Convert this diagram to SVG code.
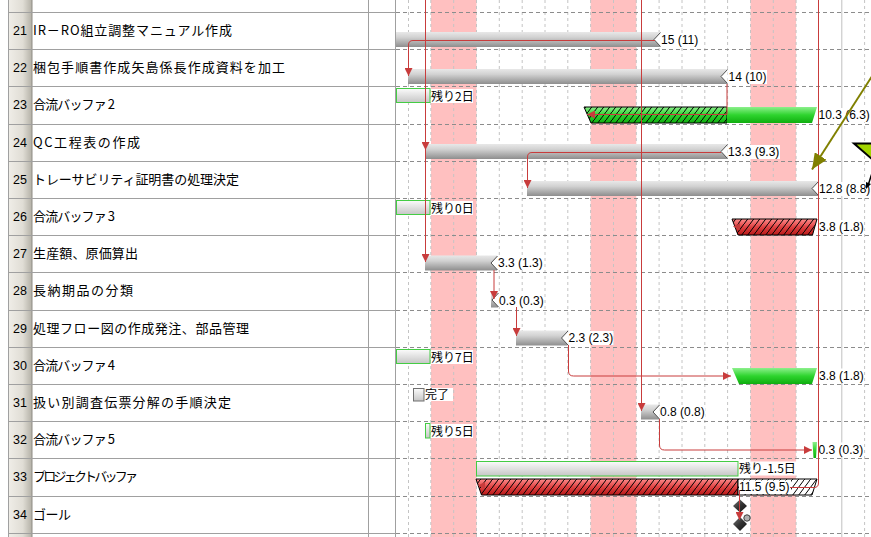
<svg xmlns="http://www.w3.org/2000/svg" width="871" height="537" viewBox="0 0 871 537">
<defs>
<style>
.tx{font-family:"Noto Sans CJK JP","Noto Sans CJK SC",sans-serif;font-size:13px;fill:#000}
.num{font-family:"Liberation Sans",Arial,sans-serif;font-size:12.5px;fill:#000}
.lb{font-family:"Liberation Sans",Arial,sans-serif;font-size:12px;fill:#000}
.lj{font-family:"Noto Sans CJK JP","Noto Sans CJK SC",sans-serif;font-size:12px;fill:#000}
.bg{fill:#fff}
.bar{fill:url(#gGray)}
.chev{fill:#fff;stroke:#505050;stroke-width:1}
.prog{fill:url(#gProg);stroke:#44cc44;stroke-width:1}
.hatch{fill:url(#hatch);stroke:#000;stroke-width:1}
.cn{fill:none;stroke:#c83c3c;stroke-width:1;marker-end:url(#ah)}
.cl{fill:none;stroke:#c83c3c;stroke-width:1}
.hg{stroke:#8c8c8c;stroke-dasharray:4 3;stroke-width:1}
.vg{stroke:#c4c4c4;stroke-dasharray:3 3;stroke-width:1}
.tl{stroke:#a0a0a0;stroke-width:1}
.dia{fill:url(#gDia)}
</style>
<linearGradient id="gGray" x1="0" y1="0" x2="0" y2="1">
<stop offset="0" stop-color="#e8e8e8"/><stop offset="0.35" stop-color="#d2d2d2"/><stop offset="1" stop-color="#8e8e8e"/>
</linearGradient>
<linearGradient id="gProg" x1="0" y1="0" x2="0" y2="1">
<stop offset="0" stop-color="#fbfbfb"/><stop offset="1" stop-color="#c6c6c6"/>
</linearGradient>
<linearGradient id="gGreen" x1="0" y1="0" x2="0" y2="1">
<stop offset="0" stop-color="#8cf08c"/><stop offset="0.5" stop-color="#2ed42e"/><stop offset="1" stop-color="#0fae0f"/>
</linearGradient>
<linearGradient id="gRed" x1="0" y1="0" x2="0" y2="1">
<stop offset="0" stop-color="#ff8c8c"/><stop offset="0.5" stop-color="#e04242"/><stop offset="1" stop-color="#b81818"/>
</linearGradient>
<linearGradient id="gNum" x1="0" y1="0" x2="1" y2="0">
<stop offset="0" stop-color="#efede7"/><stop offset="0.6" stop-color="#e0ddd5"/><stop offset="1" stop-color="#b3b0a6"/>
</linearGradient>
<linearGradient id="gDia" x1="0" y1="0" x2="1" y2="1">
<stop offset="0" stop-color="#777"/><stop offset="0.5" stop-color="#333"/><stop offset="1" stop-color="#111"/>
</linearGradient>
<pattern id="hatch" width="6" height="8" patternUnits="userSpaceOnUse">
<path d="M0,8 L6,0" stroke="#000" stroke-width="1"/>
</pattern>
<marker id="ah" viewBox="0 0 8 8" refX="8" refY="4" markerWidth="8" markerHeight="8" markerUnits="userSpaceOnUse" orient="auto">
<path d="M0,0 L8,4 L0,8 z" fill="#c83c3c"/>
</marker>
<marker id="oh" viewBox="0 0 16 14" refX="16" refY="7" markerWidth="16" markerHeight="14" markerUnits="userSpaceOnUse" orient="auto">
<path d="M0,0 L16,7 L0,14 z" fill="#808000"/>
</marker>
</defs>

<rect x="0" y="0" width="871" height="537" fill="#fff"/>

<g id="table-grid">
<rect x="9" y="0" width="23" height="537" fill="url(#gNum)"/>
<line class="tl" x1="8.5" y1="0" x2="8.5" y2="537"/>
<line x1="32" y1="0" x2="32" y2="537" stroke="#8f8c84" stroke-width="1"/>
<line class="tl" x1="368.5" y1="0" x2="368.5" y2="537"/>
<line class="tl" x1="395.5" y1="0" x2="395.5" y2="537"/>
<g class="tl">
<line x1="8" y1="12.5" x2="396" y2="12.5"/>
<line x1="8" y1="49.5" x2="396" y2="49.5"/>
<line x1="8" y1="86.5" x2="396" y2="86.5"/>
<line x1="8" y1="124.5" x2="396" y2="124.5"/>
<line x1="8" y1="161.5" x2="396" y2="161.5"/>
<line x1="8" y1="198.5" x2="396" y2="198.5"/>
<line x1="8" y1="235.5" x2="396" y2="235.5"/>
<line x1="8" y1="272.5" x2="396" y2="272.5"/>
<line x1="8" y1="310.5" x2="396" y2="310.5"/>
<line x1="8" y1="347.5" x2="396" y2="347.5"/>
<line x1="8" y1="384.5" x2="396" y2="384.5"/>
<line x1="8" y1="421.5" x2="396" y2="421.5"/>
<line x1="8" y1="458.5" x2="396" y2="458.5"/>
<line x1="8" y1="496.5" x2="396" y2="496.5"/>
<line x1="8" y1="533.5" x2="396" y2="533.5"/>
</g>
</g>

<g id="gantt-grid">
<rect x="431" y="0" width="45.5" height="537" fill="#ffc0c0"/>
<rect x="590.6" y="0" width="45.7" height="537" fill="#ffc0c0"/>
<rect x="750.5" y="0" width="45.6" height="537" fill="#ffc0c0"/>
<g class="vg">
<line x1="408.5" y1="0" x2="408.5" y2="537"/>
<line x1="430.8" y1="0" x2="430.8" y2="537"/>
<line x1="453.7" y1="0" x2="453.7" y2="537"/>
<line x1="476.5" y1="0" x2="476.5" y2="537"/>
<line x1="499.3" y1="0" x2="499.3" y2="537"/>
<line x1="522.2" y1="0" x2="522.2" y2="537"/>
<line x1="545" y1="0" x2="545" y2="537"/>
<line x1="567.8" y1="0" x2="567.8" y2="537"/>
<line x1="590.6" y1="0" x2="590.6" y2="537"/>
<line x1="613.5" y1="0" x2="613.5" y2="537"/>
<line x1="636.3" y1="0" x2="636.3" y2="537"/>
<line x1="659.1" y1="0" x2="659.1" y2="537"/>
<line x1="682" y1="0" x2="682" y2="537"/>
<line x1="704.8" y1="0" x2="704.8" y2="537"/>
<line x1="727.6" y1="0" x2="727.6" y2="537"/>
<line x1="750.5" y1="0" x2="750.5" y2="537"/>
<line x1="773.3" y1="0" x2="773.3" y2="537"/>
<line x1="796.1" y1="0" x2="796.1" y2="537"/>
<line x1="864.6" y1="0" x2="864.6" y2="537"/>
</g>
<line x1="841.8" y1="0" x2="841.8" y2="537" stroke="#c0c0c0" stroke-width="1"/>
<g class="hg">
<line x1="396" y1="12.5" x2="871" y2="12.5"/>
<line x1="396" y1="49.5" x2="871" y2="49.5"/>
<line x1="396" y1="86.5" x2="871" y2="86.5"/>
<line x1="396" y1="124.5" x2="871" y2="124.5"/>
<line x1="396" y1="161.5" x2="871" y2="161.5"/>
<line x1="396" y1="198.5" x2="871" y2="198.5"/>
<line x1="396" y1="235.5" x2="871" y2="235.5"/>
<line x1="396" y1="272.5" x2="871" y2="272.5"/>
<line x1="396" y1="310.5" x2="871" y2="310.5"/>
<line x1="396" y1="347.5" x2="871" y2="347.5"/>
<line x1="396" y1="384.5" x2="871" y2="384.5"/>
<line x1="396" y1="421.5" x2="871" y2="421.5"/>
<line x1="396" y1="458.5" x2="871" y2="458.5"/>
<line x1="396" y1="496.5" x2="871" y2="496.5"/>
<line x1="396" y1="533.5" x2="871" y2="533.5"/>
</g>
</g>

<g id="task21">
<text class="num" x="13" y="34.5">21</text>
<text class="tx" x="33" y="35" textLength="199" lengthAdjust="spacing">IR－RO組立調整マニュアル作成</text>
<rect class="bar" x="396" y="32" width="264" height="15"/>
<path class="chev" d="M660.5,32.5 L654,39.5 L660.5,46.5"/>
<rect class="bg" x="661" y="33" width="39" height="14"/>
<text class="lb" x="661" y="44.3">15 (11)</text>
</g>

<g id="task22">
<text class="num" x="13" y="71.5">22</text>
<text class="tx" x="33" y="72" textLength="252" lengthAdjust="spacing">梱包手順書作成矢島係長作成資料を加工</text>
<rect class="bar" x="408" y="69" width="319" height="15"/>
<path class="chev" d="M727.5,69.5 L721,76.5 L727.5,83.5"/>
<rect class="bg" x="728" y="70" width="39" height="14"/>
<text class="lb" x="728.5" y="81.3">14 (10)</text>
</g>

<g id="task23">
<text class="num" x="13" y="108.5">23</text>
<text class="tx" x="33" y="109" textLength="82" lengthAdjust="spacing">合流バッファ 2</text>
<rect class="prog" x="396.5" y="88.5" width="33.5" height="14"/>
<rect class="bg" x="431" y="89" width="42" height="14"/>
<text class="lj" x="431" y="100.5">残り2日</text>
<polygon points="584,107 727,107 727,123 591,123" fill="url(#gGreen)"/>
<polygon class="hatch" points="584,107 727,107 727,123 591,123"/>
<polygon points="727,107 817,107 812,123 727,123" fill="url(#gGreen)"/>
<rect class="bg" x="818" y="108" width="52" height="14"/>
<text class="lb" x="818.5" y="118.8">10.3 (6.3)</text>
</g>

<g id="task24">
<text class="num" x="13" y="146.5">24</text>
<text class="tx" x="33" y="147" textLength="107" lengthAdjust="spacing">QC工程表の作成</text>
<rect class="bar" x="425" y="144" width="302" height="15"/>
<path class="chev" d="M727.5,144.5 L721,151.5 L727.5,158.5"/>
<rect class="bg" x="728" y="145" width="52" height="14"/>
<text class="lb" x="728" y="156.3">13.3 (9.3)</text>
</g>

<g id="task25">
<text class="num" x="13" y="183.5">25</text>
<text class="tx" x="33" y="184" textLength="206" lengthAdjust="spacing">トレーサビリティ証明書の処理決定</text>
<rect class="bar" x="527" y="181" width="291" height="15"/>
<path class="chev" d="M818.5,181.5 L812,188.5 L818.5,195.5"/>
<rect class="bg" x="819" y="182" width="52" height="14"/>
<text class="lb" x="819" y="193.3">12.8 (8.8)</text>
</g>

<g id="task26">
<text class="num" x="13" y="220.5">26</text>
<text class="tx" x="33" y="221" textLength="82" lengthAdjust="spacing">合流バッファ 3</text>
<rect class="prog" x="396.5" y="200.5" width="33.5" height="14"/>
<rect class="bg" x="431" y="201" width="42" height="14"/>
<text class="lj" x="431" y="212.5">残り0日</text>
<polygon points="732,219 817,219 812.5,235 738,235" fill="url(#gRed)"/>
<polygon class="hatch" points="732,219 817,219 812.5,235 738,235"/>
<rect class="bg" x="819" y="220" width="45" height="14"/>
<text class="lb" x="819" y="230.8">3.8 (1.8)</text>
</g>

<g id="task27">
<text class="num" x="13" y="257.5">27</text>
<text class="tx" x="33" y="258" textLength="105" lengthAdjust="spacing">生産額、原価算出</text>
<rect class="bar" x="425" y="255.5" width="72" height="15"/>
<path class="chev" d="M497.5,256 L491,263 L497.5,270"/>
<rect class="bg" x="498" y="256" width="45" height="14"/>
<text class="lb" x="498" y="267.3">3.3 (1.3)</text>
</g>

<g id="task28">
<text class="num" x="13" y="294.5">28</text>
<text class="tx" x="33" y="295" textLength="100" lengthAdjust="spacing">長納期品の分類</text>
<rect class="bar" x="491" y="292.5" width="7" height="15"/>
<path class="chev" d="M498.5,293 L492,300 L498.5,307"/>
<rect class="bg" x="499" y="293" width="45" height="14"/>
<text class="lb" x="499" y="304.5">0.3 (0.3)</text>
</g>

<g id="task29">
<text class="num" x="13" y="332.5">29</text>
<text class="tx" x="33" y="333" textLength="216" lengthAdjust="spacing">処理フロー図の作成発注、部品管理</text>
<rect class="bar" x="516" y="330.5" width="51.5" height="15"/>
<path class="chev" d="M568,331 L561.5,338 L568,345"/>
<rect class="bg" x="568.5" y="331" width="45" height="14"/>
<text class="lb" x="568.5" y="342.3">2.3 (2.3)</text>
</g>

<g id="task30">
<text class="num" x="13" y="369.5">30</text>
<text class="tx" x="33" y="370" textLength="82" lengthAdjust="spacing">合流バッファ 4</text>
<rect class="prog" x="396.5" y="349.5" width="33.5" height="14"/>
<rect class="bg" x="431" y="350" width="42" height="14"/>
<text class="lj" x="431" y="361.5">残り7日</text>
<polygon points="732,368 817,368 812,384 739,384" fill="url(#gGreen)"/>
<rect class="bg" x="819" y="368.5" width="45" height="14"/>
<text class="lb" x="819" y="379.5">3.8 (1.8)</text>
</g>

<g id="task31">
<text class="num" x="13" y="406.5">31</text>
<text class="tx" x="33" y="407" textLength="198" lengthAdjust="spacing">扱い別調査伝票分解の手順決定</text>
<rect x="413.5" y="388.5" width="10.5" height="12.5" fill="url(#gProg)" stroke="#707070" stroke-width="1"/>
<rect class="bg" x="425" y="388" width="28" height="13"/>
<text class="lj" x="425" y="398.8">完了</text>
<rect class="bar" x="641" y="404.5" width="18" height="15"/>
<path class="chev" d="M659.5,405 L653,412 L659.5,419"/>
<rect class="bg" x="660" y="405" width="45" height="14"/>
<text class="lb" x="660" y="416.3">0.8 (0.8)</text>
</g>

<g id="task32">
<text class="num" x="13" y="443.5">32</text>
<text class="tx" x="33" y="444" textLength="82" lengthAdjust="spacing">合流バッファ 5</text>
<rect class="prog" x="425.5" y="423.5" width="4.5" height="14.5"/>
<rect class="bg" x="431" y="424" width="42" height="14"/>
<text class="lj" x="431" y="435.5">残り5日</text>
<polygon points="812.5,442 817,442 816,458 813.5,458" fill="url(#gGreen)"/>
<rect class="bg" x="818" y="442.5" width="45" height="14"/>
<text class="lb" x="818.5" y="453.5">0.3 (0.3)</text>
</g>

<g id="task33">
<text class="num" x="13" y="480.5">33</text>
<text class="tx" x="33" y="481" textLength="105" lengthAdjust="spacing">プロジェクトバッファ</text>
<rect class="prog" x="476.5" y="461.5" width="261.5" height="14.5"/>
<rect class="bg" x="739" y="461.5" width="58" height="14"/>
<text class="lj" x="739" y="472.8">残り-1.5日</text>
<polygon points="476,479 738,479 738,495 481.5,495" fill="url(#gRed)"/>
<polygon class="hatch" points="476,479 738,479 738,495 481.5,495"/>
<polygon points="738,479 817,479 812,495 738,495" fill="#fff"/>
<polygon class="hatch" points="738,479 817,479 812,495 738,495"/>
<rect class="bg" x="739" y="480.5" width="52" height="13.5"/>
<text class="lb" x="739" y="491.3">11.5 (9.5)</text>
</g>

<g id="task34">
<text class="num" x="13" y="518.5">34</text>
<text class="tx" x="33" y="519" textLength="38" lengthAdjust="spacing">ゴール</text>
<polygon class="dia" points="740,499.5 747,506 740,512.5 733,506"/>
<polygon class="dia" points="740,517 747,524 740,531 733,524"/>
<circle cx="747" cy="518" r="3.2" fill="#b0b0b0" stroke="#404040" stroke-width="1"/>
</g>

<g id="connectors">
<path class="cn" d="M655,40.5 H413 Q408.5,40.5 408.5,45 V76"/>
<path class="cn" d="M425.5,0 V150"/>
<path class="cn" d="M425.5,150 V262"/>
<path class="cn" d="M727,84 V114.5 H587"/>
<path class="cn" d="M721,152.5 H532 Q527.5,152.5 527.5,157 V188"/>
<path class="cn" d="M641.5,0 V411"/>
<path class="cl" d="M818.5,0 V483 Q818.5,487.5 814,487.5 H790"/>
<path class="cn" d="M494,270 V299"/>
<path class="cn" d="M516.5,307 V336"/>
<path class="cn" d="M568.5,345 V371 Q568.5,376 573.5,376 H731"/>
<path class="cn" d="M659.5,419 V445 Q659.5,450 664.5,450 H812"/>
<path class="cn" d="M739.5,490 V520"/>
<polygon points="740,223 733,226.5 740,230" fill="#c83c3c"/>
<polygon points="485,482 478,485.5 485,489" fill="#c83c3c"/>
<path d="M877,68.4 L812,169.5" stroke="#808000" stroke-width="2" fill="none" marker-end="url(#oh)"/>
<polygon points="854,143.5 910,143.5 880,166" fill="#a2d400" stroke="#000" stroke-width="2"/>
<path d="M873,170 L868.5,184" stroke="#000" stroke-width="1.5" fill="none"/>
<polygon points="866,189 866,182 871,184" fill="#000"/>
</g>
</svg>
